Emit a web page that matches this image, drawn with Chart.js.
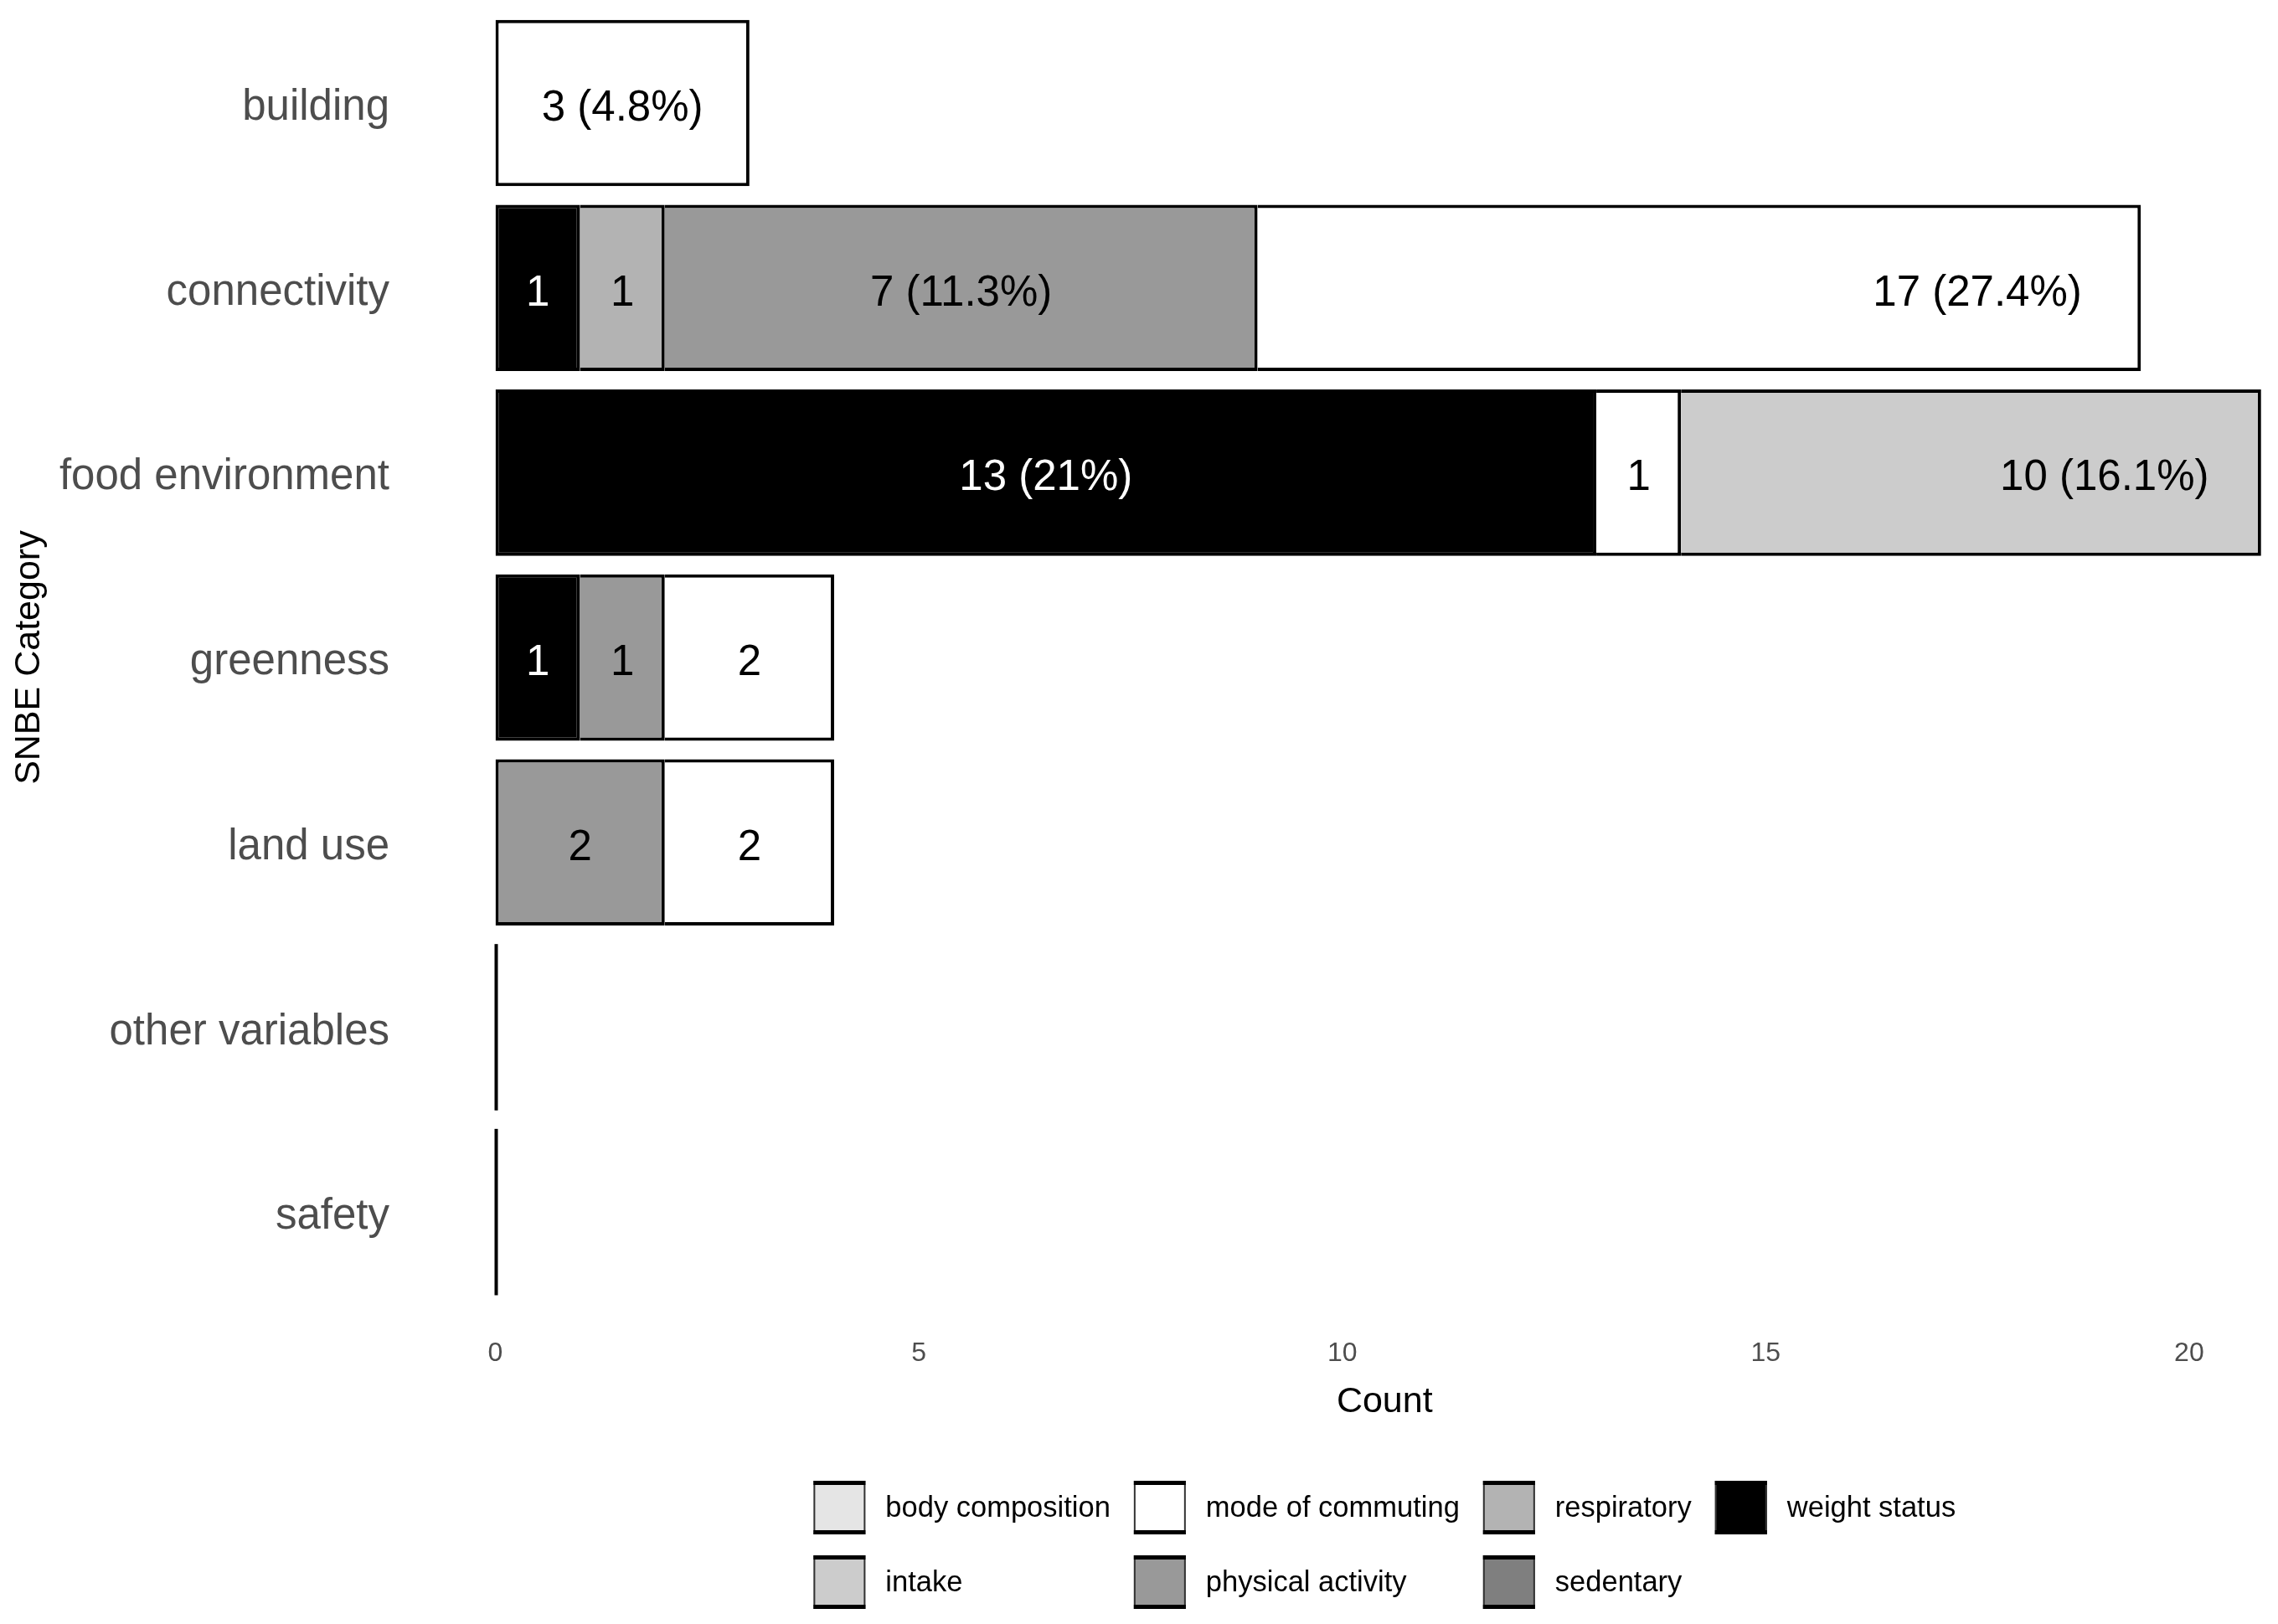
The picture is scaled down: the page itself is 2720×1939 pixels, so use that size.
<!DOCTYPE html>
<html><head><meta charset="utf-8">
<script src="https://cdn.jsdelivr.net/npm/chart.js@4.4.1/dist/chart.umd.min.js"></script>
<style>html,body{margin:0;padding:0;background:#fff;}#wrap{width:2720px;height:1939px;position:relative;background:#fff}</style>
</head><body><div id="wrap"><canvas id="c" width="2720" height="1939"></canvas></div>
<script>
// ---------------- data ----------------
const categories = ['building','connectivity','food environment','greenness','land use','other variables','safety'];

// series in stacking order (left to right)
const seriesNames  = ['weight status','sedentary','respiratory','physical activity','mode of commuting','intake','body composition'];
const seriesColors = ['#000000','#7F7F7F','#B3B3B3','#999999','#FFFFFF','#CCCCCC','#E5E5E5'];
const labelColors  = ['#FFFFFF','#000000','#000000','#000000','#000000','#000000','#000000'];

// counts as labelled in the picture
const weightStatus     = [0, 1, 13, 1, 0, 0, 0];
const sedentary        = [0, 0, 0, 0, 0, 0, 0];
const respiratory      = [0, 1, 0, 0, 0, 0, 0];
const physicalActivity = [0, 7, 0, 1, 2, 0, 0];
const modeOfCommuting  = [3, 17, 1, 2, 2, 0, 0];
const intake           = [0, 0, 10, 0, 0, 0, 0];
const bodyComposition  = [0, 0, 0, 0, 0, 0, 0];

// lengths as actually drawn in the picture (two segments are cut short)
const modeOfCommutingDrawn = [3, 10.43, 1, 2, 2, 0, 0];
const intakeDrawn          = [0, 0, 6.85, 0, 0, 0, 0];

// segment labels
const weightStatusLabels     = ['', '1', '13 (21%)', '1', '', '', ''];
const sedentaryLabels        = ['', '', '', '', '', '', ''];
const respiratoryLabels      = ['', '1', '', '', '', '', ''];
const physicalActivityLabels = ['', '7 (11.3%)', '', '1', '2', '', ''];
const modeOfCommutingLabels  = ['3 (4.8%)', '17 (27.4%)', '1', '2', '2', '', ''];
const intakeLabels           = ['', '', '10 (16.1%)', '', '', '', ''];
const bodyCompositionLabels  = ['', '', '', '', '', '', ''];

const xTicks = [0, 5, 10, 15, 20];
const legendOrder = ['body composition','intake','mode of commuting','physical activity','respiratory','sedentary','weight status'];

// ---------------- build ----------------
const countSeries = [weightStatus, sedentary, respiratory, physicalActivity, modeOfCommuting, intake, bodyComposition];
const drawnSeries = [weightStatus, sedentary, respiratory, physicalActivity, modeOfCommutingDrawn, intakeDrawn, bodyComposition];
const labelSeries = [weightStatusLabels, sedentaryLabels, respiratoryLabels, physicalActivityLabels, modeOfCommutingLabels, intakeLabels, bodyCompositionLabels];

const FAMILY = "'Liberation Sans', Arial, Helvetica, sans-serif";

const datasets = seriesNames.map((name, i) => ({
  label: name,
  data: drawnSeries[i],
  backgroundColor: seriesColors[i],
  borderColor: '#000000',
  borderWidth: 4,
  borderSkipped: (ctx) => {
    const j = ctx.dataIndex, di = ctx.datasetIndex;
    for (let k = 0; k < di; k++) if (drawnSeries[k][j] > 0) return 'start';
    return false;
  },
  barPercentage: 0.9,
  categoryPercentage: 1.0
}));

const overlay = {
  id: 'overlay',
  afterDatasetsDraw(chart) {
    const ctx = chart.ctx, xs = chart.scales.x;
    ctx.save();
    const meta0 = chart.getDatasetMeta(0);
    // zero-length bars: their outline collapses to a thin line at 0
    categories.forEach((c, j) => {
      const total = drawnSeries.reduce((a, s) => a + s[j], 0);
      if (total === 0) {
        const el = meta0.data[j];
        const x = xs.getPixelForValue(0);
        ctx.fillStyle = '#000';
        ctx.fillRect(x - 1, el.y - el.height / 2, 4, el.height);
      }
    });
    // segment labels
    ctx.font = '51px ' + FAMILY;
    ctx.textAlign = 'center';
    ctx.textBaseline = 'middle';
    categories.forEach((c, j) => {
      let cum = 0;
      countSeries.forEach((s, i) => {
        const v = s[j];
        if (v > 0 && labelSeries[i][j]) {
          const el = chart.getDatasetMeta(i).data[j];
          const x = xs.getPixelForValue(cum + v / 2);
          ctx.fillStyle = labelColors[i];
          ctx.fillText(labelSeries[i][j], x, el.y + 7);
        }
        cum += v;
      });
    });
    ctx.restore();
  },
  afterDraw(chart) {
    const ctx = chart.ctx;
    const area = chart.chartArea;
    ctx.save();
    ctx.font = '34.5px ' + FAMILY;
    ctx.textBaseline = 'middle';
    ctx.textAlign = 'left';
    const keyW = 62, keyH = 64, keyGap = 24, colGap = 28;
    const rowY = [1800, 1889];
    const nCols = Math.ceil(legendOrder.length / 2);
    const colW = [];
    for (let c = 0; c < nCols; c++) {
      let maxW = 0;
      for (let r = 0; r < 2; r++) {
        const k = c * 2 + r;
        if (k < legendOrder.length) maxW = Math.max(maxW, ctx.measureText(legendOrder[k]).width);
      }
      colW.push(maxW);
    }
    const total = colW.reduce((a, w) => a + keyW + keyGap + w, 0) + colGap * (nCols - 1);
    let x = (area.left + area.right) / 2 - total / 2;
    for (let c = 0; c < nCols; c++) {
      for (let r = 0; r < 2; r++) {
        const k = c * 2 + r;
        if (k >= legendOrder.length) continue;
        const name = legendOrder[k];
        const idx = seriesNames.indexOf(name);
        const y = rowY[r];
        ctx.fillStyle = seriesColors[idx];
        ctx.fillRect(x, y - keyH / 2, keyW, keyH);
        ctx.strokeStyle = '#333';
        ctx.lineWidth = 2;
        ctx.strokeRect(x + 1, y - keyH / 2 + 1, keyW - 2, keyH - 2);
        ctx.fillStyle = '#000';
        ctx.fillRect(x, y - keyH / 2, keyW, 5);
        ctx.fillRect(x, y + keyH / 2 - 5, keyW, 5);
        ctx.fillStyle = '#000';
        ctx.fillText(name, x + keyW + keyGap, y + 1);
      }
      x += keyW + keyGap + colW[c] + colGap;
    }
    ctx.restore();
  }
};

new Chart(document.getElementById('c'), {
  type: 'bar',
  data: { labels: categories, datasets },
  options: {
    indexAxis: 'y',
    responsive: false,
    animation: false,
    events: [],
    layout: { padding: { left: 0, right: 5, top: 12.7, bottom: 241.5 } },
    plugins: { legend: { display: false }, tooltip: { enabled: false } },
    scales: {
      x: {
        type: 'linear', stacked: true, min: 0, max: 21,
        grid: { display: false, drawTicks: false }, border: { display: false },
        afterBuildTicks: (s) => { s.ticks = xTicks.map(v => ({ value: v })); },
        afterFit: (s) => { s.height = 140; s.paddingLeft = 0; s.paddingRight = 0; },
        ticks: { font: { family: FAMILY, size: 32 }, color: '#4D4D4D', padding: 39, maxRotation: 0, autoSkip: false },
        title: { display: true, text: 'Count', font: { family: FAMILY, size: 43 }, color: '#000', padding: { top: 0, bottom: -2 } }
      },
      y: {
        type: 'category', stacked: true, offset: true,
        grid: { display: false, drawTicks: false }, border: { display: false },
        afterFit: (s) => { s.width = 591.5; s.paddingTop = 0; s.paddingBottom = 0; },
        ticks: { font: { family: FAMILY, size: 51 }, color: '#4D4D4D', padding: 126.5, autoSkip: false, labelOffset: 6 },
        title: { display: true, text: 'SNBE Category', font: { family: FAMILY, size: 43 }, color: '#000', padding: { top: 9, bottom: 0 } }
      }
    }
  },
  plugins: [overlay]
});
</script>
</body></html>
